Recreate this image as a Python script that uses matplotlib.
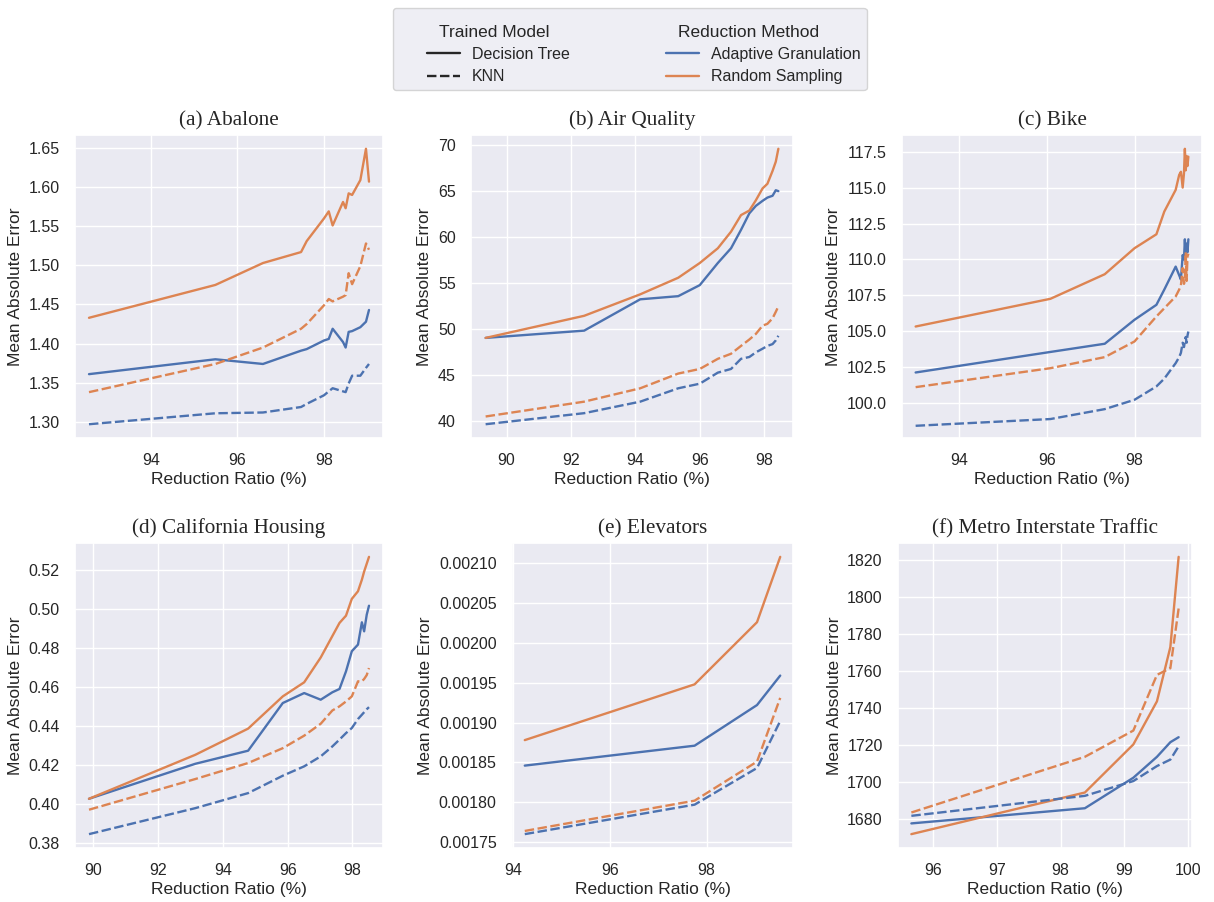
import matplotlib
matplotlib.use("Agg")
import matplotlib.pyplot as plt
import matplotlib.offsetbox as ob
import seaborn as sns
from matplotlib.lines import Line2D
from matplotlib.legend_handler import HandlerLine2D

sns.set_theme(style="darkgrid")
plt.rcParams['font.family'] = ['Liberation Sans', 'DejaVu Sans']

BLUE = "#4C72B0"
ORANGE = "#DD8452"

# ---------------- data ----------------
abalone_x = [92.57, 95.49, 96.59, 97.47, 97.6, 98.0, 98.11, 98.2, 98.44, 98.5, 98.57, 98.65, 98.84, 98.97, 99.04]
abalone_rs_dt = [1.433, 1.475, 1.503, 1.517, 1.531, 1.560, 1.569, 1.551, 1.581, 1.573, 1.592, 1.590, 1.609, 1.649, 1.607]
abalone_ag_dt = [1.361, 1.380, 1.374, 1.391, 1.393, 1.404, 1.406, 1.419, 1.402, 1.395, 1.415, 1.416, 1.421, 1.428, 1.443]
abalone_rs_knn = [1.338, 1.374, 1.395, 1.419, 1.425, 1.449, 1.457, 1.454, 1.460, 1.462, 1.490, 1.476, 1.499, 1.528, 1.520]
abalone_ag_knn = [1.297, 1.311, 1.312, 1.319, 1.323, 1.334, 1.339, 1.343, 1.339, 1.338, 1.349, 1.359, 1.359, 1.369, 1.374]

air_x = [89.35, 92.41, 94.15, 95.33, 96.0, 96.56, 96.97, 97.28, 97.54, 97.74, 97.95, 98.1, 98.26, 98.36, 98.44]
air_rs_dt = [49.07, 51.47, 53.8, 55.6, 57.2, 58.8, 60.6, 62.4, 62.9, 64.0, 65.3, 65.8, 67.2, 68.2, 69.6]
air_ag_dt = [49.07, 49.86, 53.26, 53.6, 54.8, 57.2, 58.8, 60.8, 62.6, 63.4, 63.95, 64.3, 64.5, 65.1, 65.0]
air_rs_knn = [40.54, 42.15, 43.6, 45.2, 45.7, 46.8, 47.35, 48.2, 48.9, 49.5, 50.4, 50.6, 51.2, 51.9, 52.5]
air_ag_knn = [39.7, 40.9, 42.15, 43.6, 44.1, 45.3, 45.7, 46.8, 47.0, 47.5, 47.9, 48.2, 48.4, 48.8, 49.3]

bike_x = [93.0, 96.08, 97.32, 98.0, 98.5, 98.68, 98.94, 99.02, 99.06, 99.1, 99.13, 99.15, 99.17, 99.19, 99.21, 99.23]
bike_rs_dt = [105.33, 107.26, 108.97, 110.78, 111.75, 113.33, 114.84, 115.88, 116.1, 115.0, 116.0, 117.7, 116.2, 117.2, 116.5, 117.15]
bike_ag_dt = [102.13, 103.56, 104.13, 105.8, 106.84, 107.9, 109.5, 108.9, 108.6, 110.3, 110.0, 111.4, 110.2, 111.1, 110.5, 111.4]
bike_rs_knn = [101.11, 102.43, 103.2, 104.29, 106.03, 106.6, 107.42, 107.9, 108.2, 109.4, 108.3, 108.6, 110.5, 108.5, 110.2, 110.4]
bike_ag_knn = [98.42, 98.89, 99.58, 100.23, 101.16, 101.7, 102.78, 103.2, 103.5, 104.2, 103.9, 104.3, 104.6, 104.2, 104.7, 104.98]

cal_x = [89.87, 93.15, 94.78, 95.85, 96.51, 97.02, 97.38, 97.6, 97.8, 97.98, 98.17, 98.29, 98.36, 98.44, 98.51]
cal_rs_dt = [0.4027, 0.4252, 0.4386, 0.4551, 0.4623, 0.4750, 0.4860, 0.4927, 0.4964, 0.5050, 0.5089, 0.5148, 0.5190, 0.5230, 0.5265]
cal_ag_dt = [0.4027, 0.4206, 0.4273, 0.4517, 0.4568, 0.4534, 0.4572, 0.4589, 0.4679, 0.4782, 0.4816, 0.4930, 0.4884, 0.4969, 0.5015]
cal_rs_knn = [0.3971, 0.4128, 0.4210, 0.4286, 0.4350, 0.4411, 0.4479, 0.4500, 0.4525, 0.4551, 0.4628, 0.4628, 0.4640, 0.4660, 0.4696]
cal_ag_knn = [0.3846, 0.3979, 0.4056, 0.4145, 0.4193, 0.4244, 0.4295, 0.4330, 0.4363, 0.4389, 0.4435, 0.4457, 0.4470, 0.4485, 0.4496]

elev_x = [94.24, 97.75, 99.04, 99.52]
elev_rs_dt = [0.001878, 0.001948, 0.002026, 0.002108]
elev_ag_dt = [0.001846, 0.001871, 0.001922, 0.001959]
elev_rs_knn = [0.001764, 0.001802, 0.001851, 0.001931]
elev_ag_knn = [0.001760, 0.001797, 0.001843, 0.001902]

metro_x = [95.66, 98.38, 99.14, 99.51, 99.72, 99.85]
metro_rs_dt = [1671.9, 1694.4, 1720.4, 1743.7, 1773.0, 1821.8]
metro_ag_dt = [1677.7, 1685.9, 1702.4, 1713.7, 1721.6, 1724.3]
metro_rs_knn = [1683.6, 1713.7, 1727.9, 1758.0, 1761.6, 1793.9]
metro_ag_knn = [1681.8, 1692.6, 1700.6, 1708.7, 1712.2, 1719.4]

titles = ["(a) Abalone", "(b) Air Quality", "(c) Bike",
          "(d) California Housing", "(e) Elevators", "(f) Metro Interstate Traffic"]

panels = [
    (abalone_x, abalone_ag_dt, abalone_rs_dt, abalone_ag_knn, abalone_rs_knn),
    (air_x, air_ag_dt, air_rs_dt, air_ag_knn, air_rs_knn),
    (bike_x, bike_ag_dt, bike_rs_dt, bike_ag_knn, bike_rs_knn),
    (cal_x, cal_ag_dt, cal_rs_dt, cal_ag_knn, cal_rs_knn),
    (elev_x, elev_ag_dt, elev_rs_dt, elev_ag_knn, elev_rs_knn),
    (metro_x, metro_ag_dt, metro_rs_dt, metro_ag_knn, metro_rs_knn),
]

W, H = 1214, 902
# axes boxes in pixels: left, right, top, bottom
boxes = [
    (75, 383, 135, 438), (471, 793, 135, 438), (902, 1202, 135, 438),
    (75, 383, 543, 848), (512, 793, 543, 848), (898, 1192, 543, 848),
]

fig = plt.figure(figsize=(W / 100, H / 100), dpi=100)
LW = 1.7
DASH = (4, 1.5)

axes = []
for (l, r, t, b), title, (x, ag_dt, rs_dt, ag_knn, rs_knn) in zip(boxes, titles, panels):
    ax = fig.add_axes([l / W, 1 - b / H, (r - l) / W, (b - t) / H])
    ax.plot(x, ag_dt, color=BLUE, lw=LW)
    ax.plot(x, rs_dt, color=ORANGE, lw=LW)
    ax.plot(x, ag_knn, color=BLUE, lw=LW, dashes=DASH)
    ax.plot(x, rs_knn, color=ORANGE, lw=LW, dashes=DASH)
    ax.set_title(title, family=['Liberation Serif'], fontsize=15.3, pad=7)
    ax.set_xlabel("Reduction Ratio (%)", fontsize=12.5, labelpad=3)
    ax.set_ylabel("Mean Absolute Error", fontsize=12.5, labelpad=4)
    ax.tick_params(labelsize=11.5, pad=5)
    axes.append(ax)

axes[2].set_ylim(97.57, 118.66)

# ---------------- legend ----------------
LEG_FS = 11.5
HANDLE_LEN = 3.85          # in font-size units
OFF_FRAC = 0.463           # blank part at the left of each handle box


class OffsetLineHandler(HandlerLine2D):
    def create_artists(self, legend, orig_handle, xdescent, ydescent,
                       width, height, fontsize, trans):
        off = width * OFF_FRAC
        return super().create_artists(legend, orig_handle, xdescent - off,
                                      ydescent, width - off, height,
                                      fontsize, trans)


handles = [
    Line2D([], [], visible=False),
    Line2D([], [], color="#262626", lw=LW),
    Line2D([], [], color="#262626", lw=LW, dashes=DASH),
    Line2D([], [], visible=False),
    Line2D([], [], color=BLUE, lw=LW),
    Line2D([], [], color=ORANGE, lw=LW),
]
labels = ["Trained Model", "Decision Tree", "KNN",
          "Reduction Method", "Adaptive Granulation", "Random Sampling"]
leg = fig.legend(handles, labels, ncol=2, loc="upper left",
                 bbox_to_anchor=(393 / W, 1 - 8 / H), borderaxespad=0,
                 fontsize=LEG_FS, columnspacing=4.25, borderpad=0.35,
                 handlelength=HANDLE_LEN, handletextpad=0.75,
                 labelspacing=0.45, title=" ", title_fontsize=2.6,
                 handler_map={Line2D: OffsetLineHandler()})

# make the header entries look like subtitles
for hp in leg.findobj(ob.HPacker):
    ch = hp.get_children()
    if len(ch) == 2 and isinstance(ch[0], ob.DrawingArea) and isinstance(ch[1], ob.TextArea):
        arts = ch[0].get_children()
        if arts and not all(a.get_visible() for a in arts):
            ch[0].width = HANDLE_LEN * LEG_FS * OFF_FRAC
            for tx in ch[1].get_children():
                tx.set_size(12.5)

fig.savefig("out.png", dpi=100)
